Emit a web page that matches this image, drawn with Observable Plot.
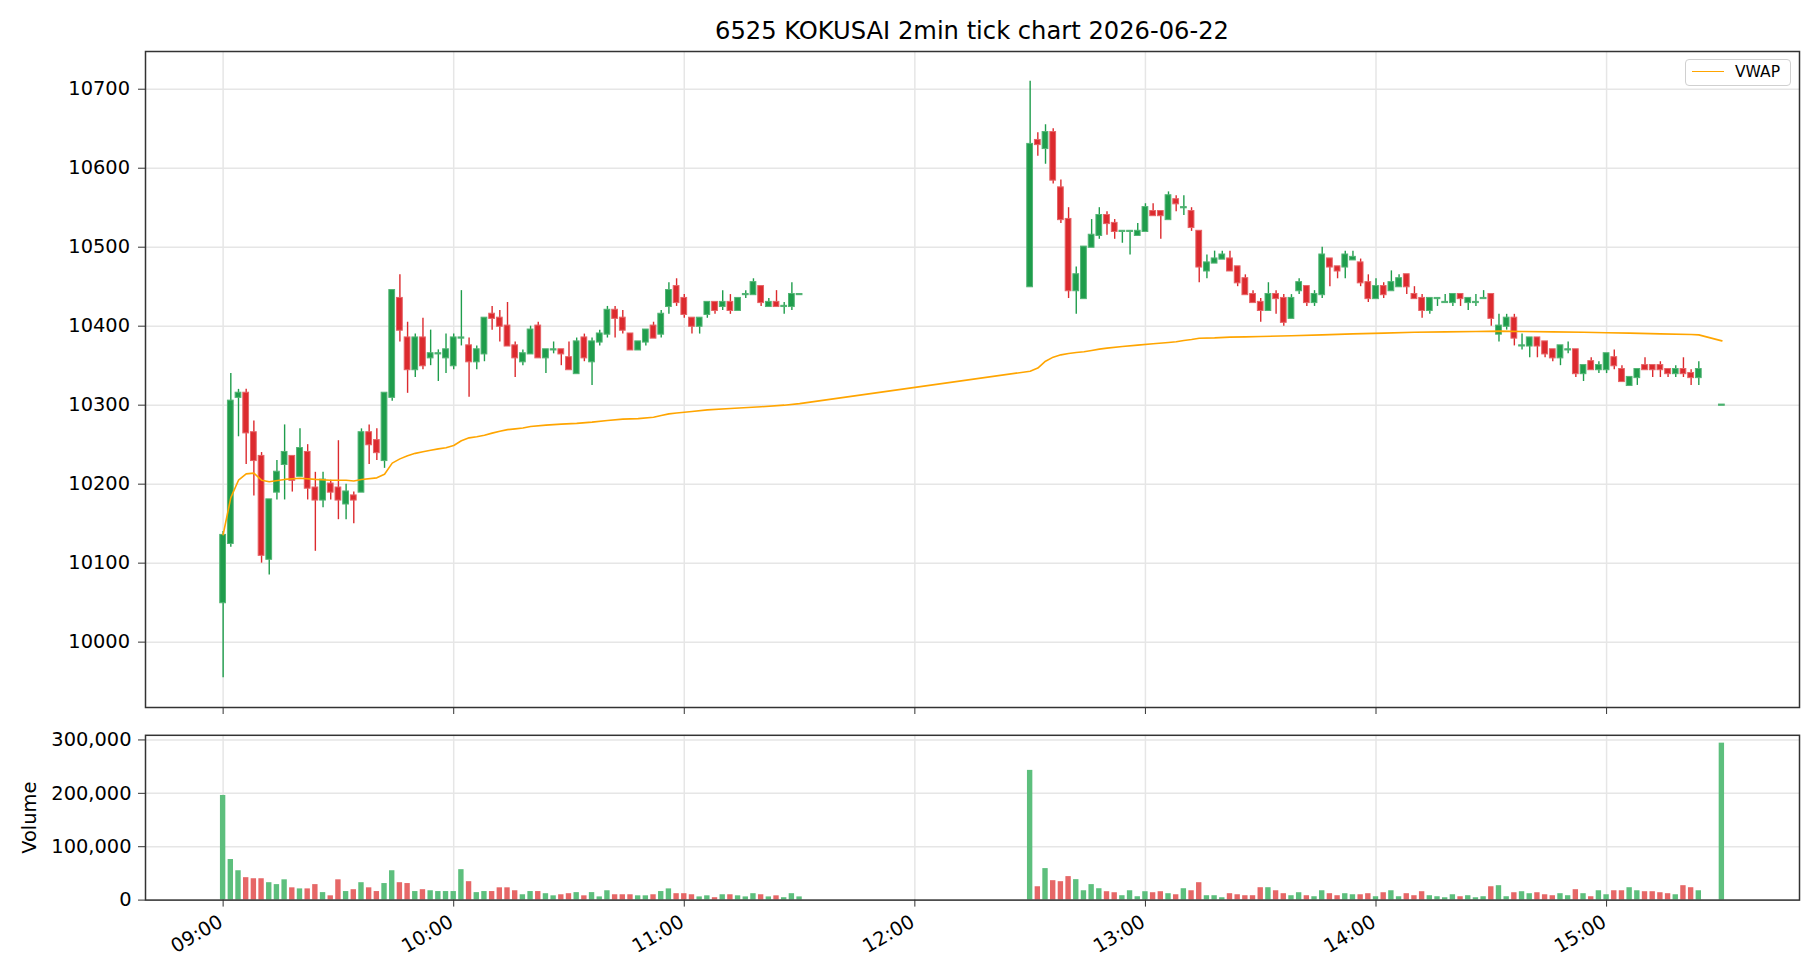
<!DOCTYPE html>
<html><head><meta charset="utf-8">
<script src="https://cdn.jsdelivr.net/npm/d3@7"></script>
<script src="https://cdn.jsdelivr.net/npm/@observablehq/plot@0.6"></script>
<style>
html,body{margin:0;padding:0;background:#fff;}
#wrap{position:relative;width:1820px;height:980px;font-family:"DejaVu Sans",sans-serif;color:#000;overflow:hidden;}
#title{position:absolute;left:145px;width:1654px;top:15px;text-align:center;font-size:24.2px;line-height:32px;}
#main{position:absolute;left:0;top:0;}
#vol{position:absolute;left:0;top:720px;}
#legend{position:absolute;left:1685px;top:59px;width:106px;height:27px;border:1px solid #d0d0d0;border-radius:4px;background:#fff;box-sizing:border-box;}
#legend .ln{position:absolute;left:6px;top:11px;width:32px;height:0;border-top:1.6px solid orange;}
#legend .tx{position:absolute;left:49px;top:2px;font-size:15.5px;line-height:21px;}
</style></head><body>
<div id="wrap">
  <div id="main"></div>
  <div id="vol"></div>
  <div id="title">6525 KOKUSAI 2min tick chart 2026-06-22</div>
  <div id="legend"><div class="ln"></div><div class="tx">VWAP</div></div>
</div>
<script>
// ---- data ----
const sessions = [
  {start: "09:00", count: 76},
  {start: "12:30", count: 88},
  {start: "15:30", count: 1}
];
const open = [
 10050,10125,10310,10315,10265,10235,10105,10190,10225,10235,10210,10240,10195,10180,10200,10195,10175,10185,10190,10265,
 10255,10230,10310,10435,10385,10345,10385,10360,10365,10360,10350,10385,10375,10355,10365,10415,10410,10400,10375,10355,
 10365,10400,10360,10370,10370,10360,10340,10385,10355,10380,10390,10420,10410,10390,10370,10380,10400,10390,10425,10450,
 10435,10410,10400,10415,10430,10425,10430,10420,10440,10440,10450,10425,10430,10425,10425,10440,
 10450,10635,10625,10645,10575,10535,10445,10435,10500,10515,10540,10530,10520,10520,10515,10520,10545,10545,10535,10560,
 10550,10545,10520,10470,10480,10485,10485,10475,10460,10440,10430,10420,10440,10435,10410,10445,10450,10430,10440,10485,
 10475,10475,10484,10480,10455,10435,10450,10445,10450,10465,10440,10435,10420,10435,10430,10430,10440,10430,10430,10435,
 10440,10390,10400,10410,10375,10375,10385,10380,10370,10360,10370,10370,10340,10355,10345,10345,10360,10345,10325,10335,
 10350,10350,10350,10345,10340,10345,10340,10335,
 10300
];
const high = [
 10140,10340,10320,10320,10280,10240,10180,10230,10275,10235,10270,10250,10215,10215,10205,10255,10200,10190,10270,10275,
 10270,10315,10445,10465,10405,10390,10410,10395,10370,10390,10390,10445,10385,10375,10410,10425,10420,10430,10380,10370,
 10400,10405,10370,10380,10370,10380,10385,10390,10385,10395,10425,10425,10420,10390,10380,10395,10405,10420,10455,10460,
 10440,10410,10410,10430,10430,10445,10440,10435,10445,10460,10450,10435,10445,10430,10455,10440,
 10710,10645,10655,10650,10585,10550,10475,10500,10535,10550,10545,10535,10520,10520,10530,10555,10555,10545,10570,10565,
 10565,10550,10520,10490,10495,10495,10495,10475,10465,10445,10435,10455,10445,10440,10440,10460,10450,10445,10500,10485,
 10475,10495,10495,10485,10465,10460,10455,10470,10465,10465,10450,10440,10435,10435,10440,10440,10440,10435,10440,10445,
 10440,10415,10415,10415,10390,10385,10385,10380,10370,10375,10380,10370,10350,10360,10355,10365,10370,10350,10335,10345,
 10360,10350,10355,10345,10350,10360,10345,10355,
 10300
];
const low = [
 9955,10120,10260,10225,10185,10100,10085,10180,10180,10190,10210,10180,10115,10170,10180,10155,10155,10150,10190,10225,
 10230,10220,10305,10380,10315,10335,10345,10350,10330,10340,10345,10375,10310,10345,10355,10395,10380,10375,10335,10350,
 10365,10360,10340,10365,10350,10345,10340,10355,10325,10375,10385,10385,10390,10370,10370,10375,10385,10385,10415,10425,
 10410,10390,10390,10410,10415,10420,10415,10420,10435,10440,10425,10425,10425,10415,10420,10440,
 10450,10615,10605,10580,10530,10435,10415,10435,10500,10510,10515,10510,10505,10490,10515,10520,10540,10510,10535,10545,
 10540,10520,10455,10460,10480,10485,10470,10450,10440,10430,10405,10420,10415,10400,10410,10440,10425,10425,10435,10450,
 10460,10460,10485,10450,10430,10435,10435,10445,10450,10440,10435,10410,10415,10425,10430,10425,10425,10420,10425,10435,
 10400,10380,10395,10375,10370,10360,10360,10360,10355,10350,10365,10335,10330,10345,10340,10340,10345,10330,10325,10325,
 10345,10335,10335,10335,10335,10335,10325,10325,
 10300
];
const close = [
 10135,10305,10315,10265,10230,10110,10180,10215,10240,10205,10245,10195,10180,10205,10190,10180,10190,10180,10265,10250,
 10240,10315,10445,10395,10345,10385,10350,10365,10365,10370,10385,10385,10355,10370,10410,10410,10400,10375,10360,10365,
 10395,10360,10370,10370,10365,10345,10380,10360,10380,10390,10420,10410,10395,10370,10380,10395,10385,10415,10445,10430,
 10415,10400,10410,10430,10420,10430,10420,10435,10440,10455,10430,10430,10425,10425,10440,10440,
 10630,10630,10645,10585,10535,10445,10465,10500,10515,10540,10530,10520,10520,10520,10520,10550,10540,10540,10565,10555,
 10550,10525,10475,10480,10485,10490,10470,10455,10440,10430,10420,10440,10435,10405,10435,10455,10430,10440,10490,10475,
 10470,10490,10487,10455,10435,10450,10440,10455,10460,10450,10435,10420,10435,10435,10430,10440,10435,10435,10430,10435,
 10410,10400,10410,10385,10375,10385,10375,10365,10360,10375,10370,10340,10350,10345,10350,10365,10350,10330,10335,10345,
 10345,10345,10345,10340,10345,10340,10335,10345,
 10300
];
const volume = [
 196000,76000,55000,42000,40000,40000,32600,29000,38000,23000,21000,21000,29000,14000,8000,38000,16000,19500,32600,23000,
 16000,31000,55000,32600,31000,16000,19500,17500,16000,16000,16000,57000,34500,14000,16000,16000,23000,23000,17500,10000,
 16000,16000,12000,8000,10000,12000,14000,8000,14000,6000,17500,10000,10000,10000,8000,8000,10000,16000,21000,12000,
 12000,10000,6000,8000,4500,10000,10000,8000,6000,12000,10000,6000,8000,4500,12000,6000,
 243000,25000,59000,36400,34500,44000,38300,17500,29000,21300,15700,13800,8200,17500,6300,15700,13800,15700,12000,10000,
 21300,17500,32600,8200,8200,4400,12000,10000,8200,8200,23200,23200,17500,12000,8200,13800,8200,6300,17500,12000,
 8200,12000,10000,10000,12000,6300,13800,17500,6300,12000,8200,15700,8200,6300,4400,10000,6300,8200,4400,6300,
 25000,27000,6300,13800,15700,12000,13800,10000,8200,12000,8200,19500,12000,6300,17500,10000,17500,17500,23200,17500,
 15700,15700,13800,12000,10000,27000,23200,17500,
 294000
];
const vwapTimes = [
 "09:00","09:02","09:04","09:06","09:08","09:10","09:12","09:16","09:20","09:24","09:28","09:32","09:34","09:36","09:40",
 "09:42","09:44","09:46","09:48","09:50","09:52","09:54","09:56","09:58","10:00","10:02","10:04","10:06","10:08","10:10",
 "10:12","10:14","10:16","10:18","10:20","10:24","10:28","10:32","10:36","10:40","10:44","10:48","10:52","10:54","10:56",
 "10:58","11:00","11:02","11:06","11:12","11:20","11:26","11:30",
 "12:30","12:32","12:34","12:36","12:38","12:40","12:42","12:44","12:46","12:48","12:50","12:54","12:58","13:02","13:06",
 "13:08","13:10","13:12","13:14","13:18","13:22","13:26","13:30","13:38","13:46","13:54","14:02","14:10","14:18","14:26",
 "14:32","14:38","14:46","14:54","15:00","15:06","15:14","15:22","15:24","15:30"
];
const vwapValues = [
 10136,10183,10205,10213,10214,10205,10203,10206,10207.5,10206,10205,10205,10204,10206,10208,
 10212.6,10226.6,10232,10236,10239,10241,10243,10244.7,10246,10249,10255,10258.6,10260,10262,10264.6,
 10267,10269,10270,10271,10273,10274.7,10276,10277,10278.5,10280.6,10282.3,10283,10284.8,10287,10289,
 10290,10291,10292,10294,10295.8,10298,10300,10302,
 10343,10347,10355.7,10360.8,10363.7,10365.4,10366.7,10367.6,10369.2,10371,10372.2,10374.3,10376,10377.7,10379.3,
 10380.2,10381.9,10383.1,10384.8,10385.2,10386.1,10386.5,10387,10387.8,10389,10390.3,10391.2,10392.4,10392.8,10393.3,
 10393.7,10393.3,10392.8,10392.4,10391.6,10391.2,10390.3,10389.5,10389,10381.4
];
const xTickLabels = ["09:00","10:00","11:00","12:00","13:00","14:00","15:00"];
const priceTicks = [10000,10100,10200,10300,10400,10500,10600,10700];
const volumeTicks = [0,100000,200000,300000];

// ---- build tables ----
const toMin = s => { const [h, m] = s.split(":").map(Number); return h * 60 + m; };
const times = [];
for (const s of sessions) { const t0 = toMin(s.start); for (let i = 0; i < s.count; i++) times.push(t0 + 2 * i); }
const candles = times.map((t, i) => ({t, o: open[i], h: high[i], l: low[i], c: close[i], v: volume[i], up: close[i] >= open[i]}));
const ups = candles.filter(d => d.up), downs = candles.filter(d => !d.up);
const vwap = vwapTimes.map((s, i) => ({t: toMin(s), v: vwapValues[i]}));
const tickMins = xTickLabels.map(toMin);
const fmtTime = m => xTickLabels[tickMins.indexOf(m)];

const tFirst = times[0], tLast = times[times.length - 1];
const pad = 20.2;
const xDomain = [tFirst - pad, tLast + pad];
const lo = d3.min(low), hi = d3.max(high), span = hi - lo;
const yDomain = [lo - 0.05 * span, hi + 0.05 * span];
const vDomain = [0, d3.max(volume) * 1.05];

const G = "#1f9d4c", GE = "#52b474", R = "#dc2a2e", RE = "#e66366";
const VG = "#5dbf7d", VR = "#e66767";
const gridStyle = {stroke: "#e6e6e6", strokeOpacity: 1, strokeWidth: 1.5};
const style = {fontFamily: '"DejaVu Sans",sans-serif', fontSize: "19.4px", color: "#000", background: "transparent", overflow: "visible"};

const main = Plot.plot({
  width: 1820, height: 720,
  marginLeft: 145, marginRight: 21, marginTop: 51, marginBottom: 13,
  x: {type: "linear", domain: xDomain},
  y: {domain: yDomain},
  style,
  marks: [
    Plot.gridX(tickMins, gridStyle),
    Plot.gridY(priceTicks, gridStyle),
    Plot.ruleX(ups, {x: "t", y1: "l", y2: "h", stroke: G, strokeWidth: 1.4}),
    Plot.ruleX(downs, {x: "t", y1: "l", y2: "h", stroke: R, strokeWidth: 1.4}),
    Plot.rect(ups, {x1: d => d.t - 0.75, x2: d => d.t + 0.75, y1: "o", y2: "c", fill: G, stroke: GE, strokeWidth: 1, insetTop: -0.6, insetBottom: -0.6}),
    Plot.rect(downs, {x1: d => d.t - 0.75, x2: d => d.t + 0.75, y1: "o", y2: "c", fill: R, stroke: RE, strokeWidth: 1, insetTop: -0.6, insetBottom: -0.6}),
    Plot.line(vwap, {x: "t", y: "v", stroke: "orange", strokeWidth: 1.6}),
    Plot.frame({stroke: "#333", strokeWidth: 1.5}),
    Plot.axisY(priceTicks, {tickSize: 7, tickPadding: 8.5, label: null, tickFormat: d => String(d), stroke: "#333"}),
    Plot.axisX(tickMins, {tickSize: 7, tickFormat: () => "", label: null, stroke: "#333"})
  ]
});
document.getElementById("main").appendChild(main);

const vol = Plot.plot({
  width: 1820, height: 260,
  marginLeft: 145, marginRight: 21, marginTop: 14.8, marginBottom: 80.4,
  x: {type: "linear", domain: xDomain},
  y: {domain: vDomain},
  style,
  marks: [
    Plot.gridX(tickMins, gridStyle),
    Plot.gridY(volumeTicks, gridStyle),
    Plot.rect(ups, {x1: d => d.t - 0.7, x2: d => d.t + 0.7, y1: 0, y2: "v", fill: VG}),
    Plot.rect(downs, {x1: d => d.t - 0.7, x2: d => d.t + 0.7, y1: 0, y2: "v", fill: VR}),
    Plot.frame({stroke: "#333", strokeWidth: 1.5}),
    Plot.axisY(volumeTicks, {tickSize: 7, tickPadding: 7, tickFormat: d3.format(","), label: "Volume", labelAnchor: "center", labelArrow: "none", labelOffset: 123, stroke: "#333"}),
    Plot.axisX(tickMins, {tickSize: 7, tickFormat: () => "", label: null, stroke: "#333"}),
    Plot.axisX(tickMins, {tickSize: 0, tickPadding: 20, tickRotate: -30, dx: -2, tickFormat: fmtTime, label: null})
  ]
});
document.getElementById("vol").appendChild(vol);
</script>
</body></html>
